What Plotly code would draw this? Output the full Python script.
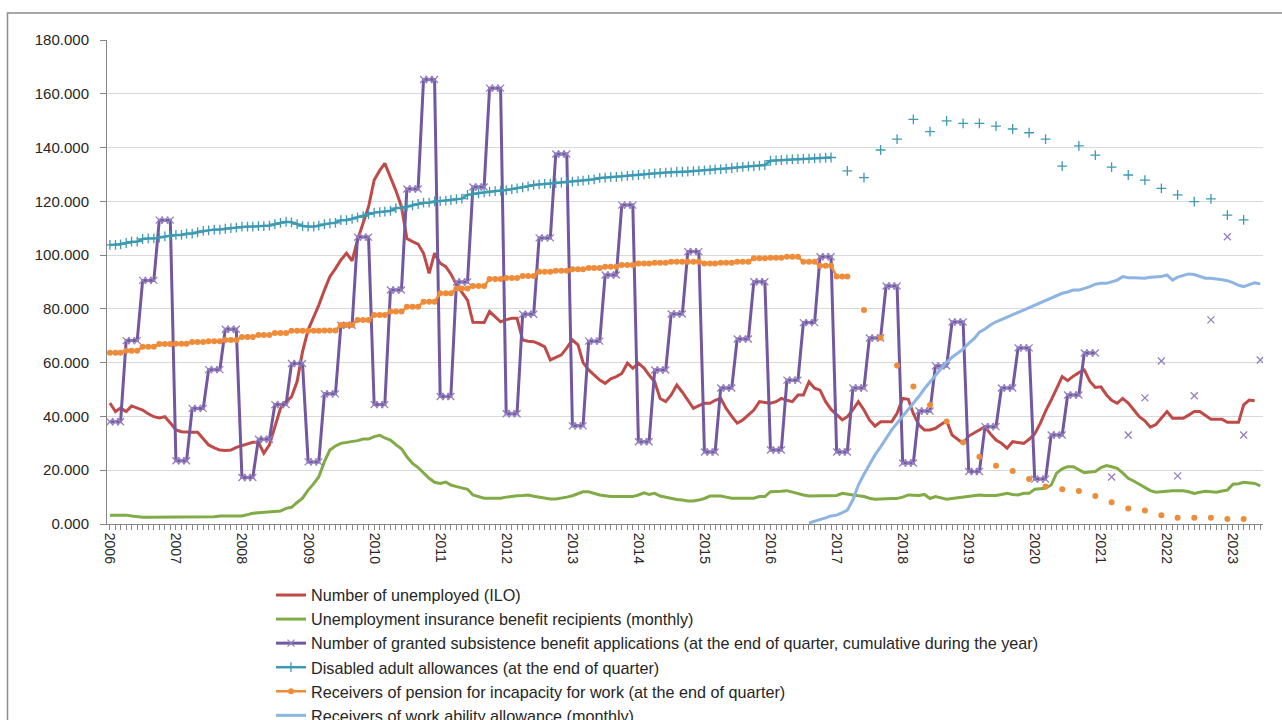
import pandas as pd
import plotly.graph_objects as go

# ---------------- data ----------------
START = "2006-01-01"
N_MONTHS = 210  # Jan 2006 .. Jun 2023 (monthly categories)
YEARS = list(range(2006, 2024))
YEAR_LABELS = [str(y) for y in YEARS]
Y_TICKS = [0, 20000, 40000, 60000, 80000, 100000, 120000, 140000, 160000, 180000]
Y_TICK_TEXT = ["0.000", "20.000", "40.000", "60.000", "80.000", "100.000",
               "120.000", "140.000", "160.000", "180.000"]

SERIES_NAMES = [
    "Number of unemployed (ILO)",
    "Unemployment insurance benefit recipients (monthly)",
    "Number of granted subsistence benefit applications (at the end of quarter, cumulative during the year)",
    "Disabled adult allowances (at the end of quarter)",
    "Receivers of pension for incapacity for work (at the end of quarter)",
    "Receivers of work ability allowance (monthly)",
]

# Number of unemployed (ILO), monthly from Jan 2006
UNEMPLOYED_ILO = [
    45000, 41800, 43100, 41800, 43900, 43000, 42400, 41000, 39900, 39400, 39900, 37600,  # 2006
    35000, 34300, 34100, 34100, 34100, 31900, 29400, 28300, 27500, 27300, 27500, 28500,  # 2007
    29100, 29800, 30400, 30400, 26300, 29400, 36200, 43000, 45500, 47300, 53000, 64100,  # 2008
    72200, 77000, 81400, 87000, 92000, 95000, 98200, 100700, 97900, 105600, 112000, 118000,  # 2009
    127900, 131500, 134100, 129200, 124000, 118000, 106200, 105000, 104100, 100700, 93200, 100700,  # 2010
    97000, 95700, 93000, 89000, 86000, 83300, 75000, 74900, 74900, 79000, 77000, 75200,  # 2011
    76000, 76500, 76500, 68400, 68000, 67800, 67000, 65900, 61000, 62000, 62900, 65500,  # 2012
    68400, 66600, 60000, 57300, 55400, 53500, 52300, 54000, 54800, 56000, 59800, 57900,  # 2013
    59800, 58000, 55400, 52900, 46700, 45500, 48000, 51700, 49000, 46000, 43000, 44000,  # 2014
    44900, 44900, 46000, 46700, 43000, 40000, 37500, 38700, 40500, 42400, 45500, 45200,  # 2015
    44900, 45500, 46700, 46000, 45500, 48000, 48000, 52900, 50500, 49800, 45500, 42600,  # 2016
    40500, 38700, 39900, 42500, 45500, 42400, 38700, 36400, 38000, 38000, 38000, 41200,  # 2017
    46700, 46400, 41000, 36800, 35000, 35000, 35600, 37000, 38400, 33100, 31500, 30000,  # 2018
    32700, 34000, 35000, 36200, 33500, 31200, 30000, 28200, 30600, 30300, 30000, 31500,  # 2019
    33500, 37500, 42000, 46100, 50500, 54800, 53300, 55000, 56300, 57300, 53000, 50800,  # 2020
    51000, 48000, 46000, 44900, 46700, 45000, 42500, 39900, 38400, 36000, 37000, 39500,  # 2021
    41800, 39300, 39300, 39300, 40500, 41800, 41800, 40500, 39000, 39000, 39000, 37800,  # 2022
    37800, 37800, 44300, 46100, 45800,  # 2023
]

# Unemployment insurance benefit recipients, monthly from Jan 2006
UI_RECIPIENTS = [
    3300, 3300, 3300, 3300, 3000, 2700, 2500, 2500, 2500, 2500, 2500, 2500,  # 2006
    2500, 2500, 2500, 2500, 2500, 2500, 2500, 2700, 3000, 3000, 3000, 3000,  # 2007
    3000, 3500, 4000, 4200, 4300, 4500, 4600, 4800, 5800, 6200, 8000, 9600,  # 2008
    12600, 15000, 17600, 23200, 27500, 29000, 30000, 30300, 30600, 31000, 31600, 31600,  # 2009
    32500, 33000, 32000, 31200, 29500, 28000, 25000, 22500, 21000, 19000, 17000, 15500,  # 2010
    15100, 15600, 14500, 13900, 13400, 12900, 10800, 10300, 9600, 9600, 9600, 9600,  # 2011
    10000, 10400, 10500, 10600, 10800, 10300, 9900, 9600, 9300, 9300, 9600, 10000,  # 2012
    10500, 11400, 12000, 12000, 11400, 10800, 10500, 10200, 10200, 10200, 10200, 10200,  # 2013
    10800, 11600, 11000, 11400, 10400, 9900, 9400, 9100, 8900, 8600, 8600, 8900,  # 2014
    9500, 10400, 10400, 10400, 10000, 9600, 9600, 9600, 9600, 9600, 10200, 10200,  # 2015
    12000, 12000, 12200, 12400, 11800, 11200, 10800, 10400, 10400, 10400, 10400, 10400,  # 2016
    10600, 11400, 11000, 10800, 10500, 10200, 9600, 9200, 9300, 9500, 9500, 9500,  # 2017
    10000, 10800, 10600, 10600, 11000, 9500, 10200, 9800, 9200, 9500, 9800, 10200,  # 2018
    10500, 10600, 10800, 10600, 10600, 10600, 11000, 11400, 11000, 10800, 11400, 11400,  # 2019
    12900, 13000, 13300, 14500, 18900, 20500, 21300, 21300, 20100, 19100, 19300, 19500,  # 2020
    21000, 21700, 21300, 20700, 19000, 17000, 16000, 14800, 13500, 12400, 11800, 12000,  # 2021
    12400, 12400, 12400, 12400, 12000, 11400, 11800, 12200, 12000, 11800, 12300, 12600,  # 2022
    14800, 15000, 15500, 15300, 15100, 14200,  # 2023
]

# Granted subsistence benefit applications, monthly Jan 2006 - Dec 2020
SUBSISTENCE_MONTHLY = [
    38000, 38000, 38000, 68200, 68200, 68200, 90600, 90600, 90600, 113000, 113000, 113000,  # 2006
    23500, 23500, 23500, 43000, 43000, 43000, 57400, 57400, 57400, 72400, 72400, 72400,  # 2007
    17300, 17300, 17300, 31500, 31500, 31500, 44400, 44400, 44400, 59700, 59700, 59700,  # 2008
    23100, 23100, 23100, 48400, 48400, 48400, 73900, 73900, 73900, 106700, 106700, 106700,  # 2009
    44400, 44400, 44400, 87000, 87000, 87000, 124600, 124600, 124600, 165300, 165300, 165300,  # 2010
    47400, 47400, 47400, 90000, 90000, 90000, 125300, 125300, 125300, 162100, 162100, 162100,  # 2011
    41000, 41000, 41000, 78000, 78000, 78000, 106400, 106400, 106400, 137600, 137600, 137600,  # 2012
    36500, 36500, 36500, 68000, 68000, 68000, 92600, 92600, 92600, 118600, 118600, 118600,  # 2013
    30600, 30600, 30600, 57300, 57300, 57300, 78100, 78100, 78100, 101300, 101300, 101300,  # 2014
    26800, 26800, 26800, 50600, 50600, 50600, 68800, 68800, 68800, 90100, 90100, 90100,  # 2015
    27500, 27500, 27500, 53500, 53500, 53500, 74900, 74900, 74900, 99400, 99400, 99400,  # 2016
    26800, 26800, 26800, 50600, 50600, 50600, 69200, 69200, 69200, 88500, 88500, 88500,  # 2017
    22700, 22700, 22700, 42000, 42000, 42000, 58800, 58800, 58800, 75100, 75100, 75100,  # 2018
    19500, 19500, 19500, 36200, 36200, 36200, 50600, 50600, 50600, 65500, 65500, 65500,  # 2019
    16700, 16700, 16700, 33100, 33100, 33100, 48000, 48000, 48000, 63600, 63600, 63600,  # 2020
]
# quarter ends Mar 2021 .. Jun 2023
SUBSISTENCE_QUARTER_START = "2021-03-01"
SUBSISTENCE_QUARTERLY = [17500, 33100, 46900, 60600, 17900, 47700, 75900, 106800, 33100, 61000]

# Disabled adult allowances, monthly Jan 2006 - Dec 2016
DISABLED_MONTHLY = [
    103800, 103800, 104000, 104500, 105000, 105000, 106000, 106200, 106200, 106500, 107000, 107200,  # 2006
    107500, 107500, 108000, 108000, 108500, 109000, 109200, 109500, 109500, 109800, 110000, 110200,  # 2007
    110600, 110600, 110600, 110800, 110800, 111000, 111500, 112000, 112400, 112200, 111500, 110800,  # 2008
    110600, 110600, 111000, 111500, 111800, 112000, 113000, 113000, 113500, 114000, 114500, 115200,  # 2009
    115800, 116000, 116200, 116500, 117500, 117500, 118000, 118500, 119000, 119500, 119500, 120000,  # 2010
    120100, 120300, 120500, 120800, 121000, 122400, 122600, 123000, 123300, 123600, 123800, 124000,  # 2011
    124200, 124500, 124800, 125200, 125600, 126100, 126300, 126500, 126600, 126800, 127000, 127200,  # 2012
    127300, 127500, 127700, 128000, 128200, 128700, 128800, 129000, 129100, 129300, 129500, 129700,  # 2013
    129800, 130000, 130200, 130400, 130600, 130700, 130800, 131000, 131000, 131100, 131200, 131400,  # 2014
    131500, 131700, 131900, 132000, 132200, 132400, 132600, 132800, 133000, 133100, 133300, 133500,  # 2015
    135100, 135200, 135300, 135500, 135600, 135700, 135800, 135900, 136000, 136100, 136200, 136300,  # 2016
]
DISABLED_QUARTER_START = "2017-03-01"
DISABLED_QUARTERLY = [131300, 128800, 139100, 143100, 150500, 145900, 149900, 149000,
                      149000, 148000, 146900, 145500, 143100, 133100, 140600, 137200,
                      132700, 129800, 127900, 124800, 122400, 119900, 120900, 114900,
                      113100]

# Pension for incapacity for work, monthly Jan 2006 - Mar 2017
PENSION_MONTHLY = [
    63700, 63700, 63700, 64400, 64400, 64400, 65900, 65900, 65900, 66900, 66900, 66900,  # 2006
    67000, 67000, 67000, 67700, 67700, 67700, 68000, 68000, 68000, 68400, 68400, 68400,  # 2007
    69500, 69500, 69500, 70300, 70300, 70300, 71000, 71000, 71000, 71900, 71900, 71900,  # 2008
    71900, 71900, 71900, 72000, 72000, 72000, 74000, 74000, 74000, 75900, 75900, 75900,  # 2009
    77700, 77700, 77700, 79000, 79000, 79000, 80800, 80800, 80800, 82700, 82700, 82700,  # 2010
    85800, 85800, 85800, 87600, 87600, 87600, 88500, 88500, 88500, 91100, 91100, 91100,  # 2011
    91500, 91500, 91500, 92200, 92200, 92200, 93800, 93800, 93800, 94200, 94200, 94200,  # 2012
    94700, 94700, 94700, 95200, 95200, 95200, 95700, 95700, 95700, 96300, 96300, 96300,  # 2013
    96900, 96900, 96900, 97200, 97200, 97200, 97500, 97500, 97500, 97500, 97500, 97500,  # 2014
    96900, 96900, 96900, 97200, 97200, 97200, 97500, 97500, 97500, 98800, 98800, 98800,  # 2015
    99000, 99000, 99000, 99400, 99400, 99400, 97500, 97500, 97500, 96000, 96000, 96000,  # 2016
    92000, 92000, 92000,  # 2017
]
PENSION_QUARTER_START = "2017-06-01"
PENSION_QUARTERLY = [79600, 69300, 58900, 51100, 44300, 38100, 30400, 25000, 21700, 19700,
                     16700, 13900, 12900, 12300, 10400, 8100, 5800, 5000, 3300, 2300,
                     2300, 2300, 1900, 1900]

# Work ability allowance, monthly from Aug 2016
WORK_ABILITY_START = "2016-08-01"
WORK_ABILITY = [
    400, 1000, 1500, 2300, 3000,  # 2016
    3300, 4200, 5200, 9000, 14500, 18500, 22000, 25700, 28700, 32000, 35000, 37500,  # 2017
    40000, 42500, 44800, 47500, 50300, 52900, 55200, 57800, 60200, 62000, 63500, 65000,  # 2018
    67200, 69000, 71300, 72500, 74000, 75200, 76000, 76900, 77800, 78700, 79500, 80500,  # 2019
    81500, 82300, 83000, 84000, 85000, 85800, 86300, 87000, 87000, 87500, 88300, 89200,  # 2020
    89500, 89500, 90000, 90700, 92000, 91600, 91600, 91600, 91400, 91800, 92000, 92000,  # 2021
    92600, 90700, 91800, 92400, 93000, 92800, 92000, 91400, 91400, 91200, 90800, 90500,  # 2022
    89800, 88800, 88300, 89000, 89700, 89300,  # 2023
]

COLORS = ["#BE4B48", "#80AB46", "#7358A0", "#3E9AB3", "#EE8C3A", "#8DB4E2"]

# ---------------- assembly ----------------
months = pd.date_range(START, periods=N_MONTHS, freq="MS")


def place(values, start):
    arr = [None] * N_MONTHS
    i0 = months.get_loc(pd.Timestamp(start))
    for k, v in enumerate(values):
        arr[i0 + k] = v
    return arr


def place_quarterly(arr, values, start):
    dates = pd.date_range(start, periods=len(values), freq="3MS")
    for d, v in zip(dates, values):
        arr[months.get_loc(d)] = v
    return arr


red = place(UNEMPLOYED_ILO, START)
green = place(UI_RECIPIENTS, START)
purple = place_quarterly(place(SUBSISTENCE_MONTHLY, START), SUBSISTENCE_QUARTERLY, SUBSISTENCE_QUARTER_START)
teal = place_quarterly(place(DISABLED_MONTHLY, START), DISABLED_QUARTERLY, DISABLED_QUARTER_START)
orange = place_quarterly(place(PENSION_MONTHLY, START), PENSION_QUARTERLY, PENSION_QUARTER_START)
lightblue = place(WORK_ABILITY, WORK_ABILITY_START)

FONT = "Liberation Sans, Arial, sans-serif"
TXT = "#262626"

fig = go.Figure()


def add(y, idx, width, marker=None):
    kw = dict(x=months, y=y, name=SERIES_NAMES[idx], legendgroup=str(idx),
              connectgaps=False,
              line=dict(color=COLORS[idx], width=width))
    if marker is None:
        kw["mode"] = "lines"
    else:
        kw["mode"] = "lines+markers"
        kw["marker"] = marker
    fig.add_trace(go.Scatter(**kw))


add(red, 0, 3)
add(green, 1, 3)
add(purple, 2, 3, dict(symbol="x-thin", size=7, color="#937FC0",
                       line=dict(color="#937FC0", width=1.3)))
add(teal, 3, 2.5, dict(symbol="cross-thin", size=7, color="#3E9AB3",
                       line=dict(color="#3E9AB3", width=1.3)))
add(orange, 4, 2.5, dict(symbol="circle", size=6, color="#EE8C3A"))
add(lightblue, 5, 3)

W, H = 1282, 720
ML, MR, MT, MB = 107, 19, 40, 196
pw = W - ML - MR
ph = H - MT - MB

fig.update_layout(
    width=W, height=H,
    margin=dict(l=ML, r=MR, t=MT, b=MB, autoexpand=False),
    paper_bgcolor="white", plot_bgcolor="white",
    showlegend=True,
    legend=dict(x=(271 - ML) / pw, y=(MT + ph - 578) / ph, xanchor="left", yanchor="top",
                traceorder="grouped", tracegroupgap=0,
                font=dict(family=FONT, size=16.2, color=TXT),
                bgcolor="rgba(0,0,0,0)"),
    xaxis=dict(
        type="date",
        range=["2005-12-16", "2023-06-16"],
        tickmode="array",
        tickvals=[pd.Timestamp(f"{y}-01-01") for y in YEARS],
        ticktext=YEAR_LABELS,
        tickangle=90,
        ticks="outside", ticklen=5, tickcolor="#868686", tickwidth=1,
        minor=dict(dtick="M1", ticks="outside", ticklen=5, tickcolor="#868686", tickwidth=1, showgrid=False),
        showline=True, linecolor="#868686", linewidth=1,
        showgrid=False, zeroline=False,
        tickfont=dict(family=FONT, size=14, color=TXT),
    ),
    yaxis=dict(
        range=[0, 180000],
        tickmode="array", tickvals=Y_TICKS, ticktext=Y_TICK_TEXT,
        ticks="outside", ticklen=6, tickcolor="#868686",
        showline=True, linecolor="#868686", linewidth=1,
        showgrid=True, gridcolor="#D9D9D9", gridwidth=1,
        zeroline=False,
        ticklabelstandoff=8,
        tickfont=dict(family=FONT, size=15, color=TXT),
    ),
    shapes=[dict(type="rect", xref="paper", yref="paper",
                 x0=(7.5 - ML) / pw, x1=1.2, y0=-0.6, y1=(MT + ph - 13) / ph,
                 line=dict(color="#8C8C8C", width=1.5), fillcolor="rgba(0,0,0,0)", layer="below")],
)

fig.write_html("out.html", config={"displayModeBar": False},
               post_script="document.body.style.margin='0px';")
